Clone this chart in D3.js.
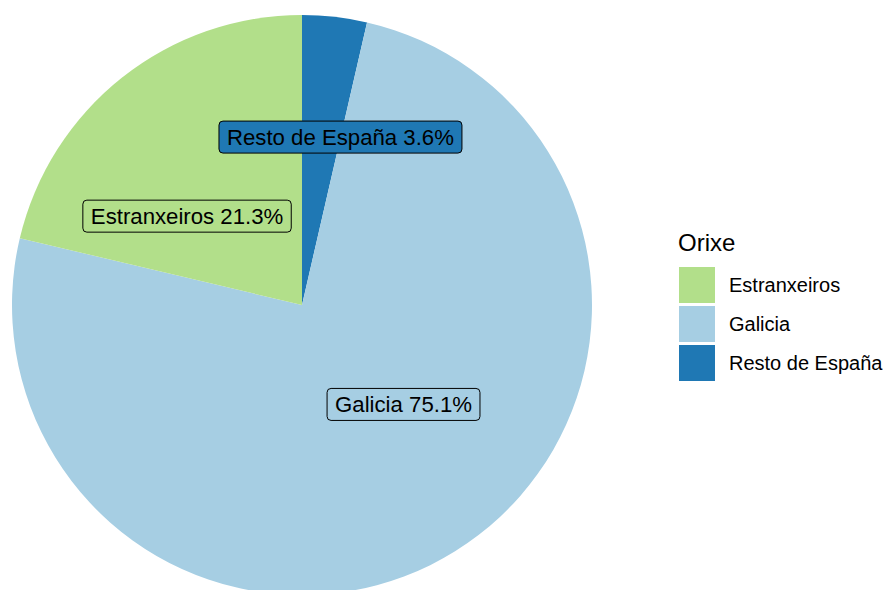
<!DOCTYPE html>
<html>
<head>
<meta charset="utf-8">
<script src="https://cdn.jsdelivr.net/npm/d3@7"></script>
<style>
  html, body { margin: 0; padding: 0; background: #ffffff; }
  svg { display: block; font-family: "Liberation Sans", Arial, sans-serif; }
</style>
</head>
<body>
<svg id="chart" width="887" height="590"></svg>
<script>
// ---- data ----
const categories = ["Resto de España", "Galicia", "Estranxeiros"]; // drawing order (clockwise from 12 o'clock)
const shares = [3.6, 75.1, 21.3];
const legendOrder = ["Estranxeiros", "Galicia", "Resto de España"];
const colours = ["#1f78b4", "#a6cee3", "#b2df8a"];
const legendTitle = "Orixe";
// label placement (angle in degrees clockwise from top, radius as fraction of pie radius)
const labelAngles = [12.9, 134.4, 307.7];
const labelRadii = [0.594, 0.490, 0.501];

// ---- layout ----
const svg = d3.select("#chart");
const cx = 302, cy = 305, R = 290;

const colour = d3.scaleOrdinal().domain(categories).range(colours);
const data = categories.map((c, i) => ({ cat: c, value: shares[i], la: labelAngles[i], lr: labelRadii[i] }));

const pie = d3.pie().sort(null).value(d => d.value);
const arc = d3.arc().innerRadius(0).outerRadius(R);

const g = svg.append("g").attr("transform", `translate(${cx},${cy})`);
g.selectAll("path.slice")
  .data(pie(data))
  .join("path")
  .attr("class", "slice")
  .attr("d", arc)
  .attr("fill", d => colour(d.data.cat));

// ---- labels ----
const fs = 22.2;
const lab = g.selectAll("g.lab").data(data).join("g").attr("class", "lab")
  .attr("transform", d => {
    const a = d.la * Math.PI / 180;
    const r = d.lr * R;
    return `translate(${r * Math.sin(a)},${-r * Math.cos(a)})`;
  });
lab.each(function(d) {
  const sel = d3.select(this);
  const rect = sel.append("rect");
  const t = sel.append("text")
    .attr("text-anchor", "middle")
    .attr("font-size", fs)
    .attr("fill", "#000")
    .attr("y", fs * 0.36)
    .text(`${d.cat} ${d.value.toFixed(1)}%`);
  const w = t.node().getComputedTextLength();
  const padX = 8, h = 32;
  rect.attr("x", -w / 2 - padX).attr("y", -h / 2)
    .attr("width", w + 2 * padX).attr("height", h)
    .attr("rx", 4).attr("ry", 4)
    .attr("fill", colour(d.cat))
    .attr("stroke", "#000").attr("stroke-width", 1);
});

// ---- legend ----
const lg = svg.append("g").attr("transform", "translate(678,0)");
lg.append("text").attr("x", 0).attr("y", 251).attr("font-size", 24).attr("fill", "#000").text(legendTitle);
const keyY = d3.scaleBand().domain(legendOrder).range([267, 381]).paddingInner(3 / 39).paddingOuter(0);
const item = lg.selectAll("g.key").data(legendOrder).join("g").attr("class", "key");
item.append("rect")
  .attr("x", 1).attr("y", d => keyY(d))
  .attr("width", 36).attr("height", keyY.bandwidth())
  .attr("fill", d => colour(d));
item.append("text")
  .attr("x", 51).attr("y", d => keyY(d) + keyY.bandwidth() / 2 + 7)
  .attr("font-size", 20).attr("fill", "#000")
  .text(d => d);
</script>
</body>
</html>
